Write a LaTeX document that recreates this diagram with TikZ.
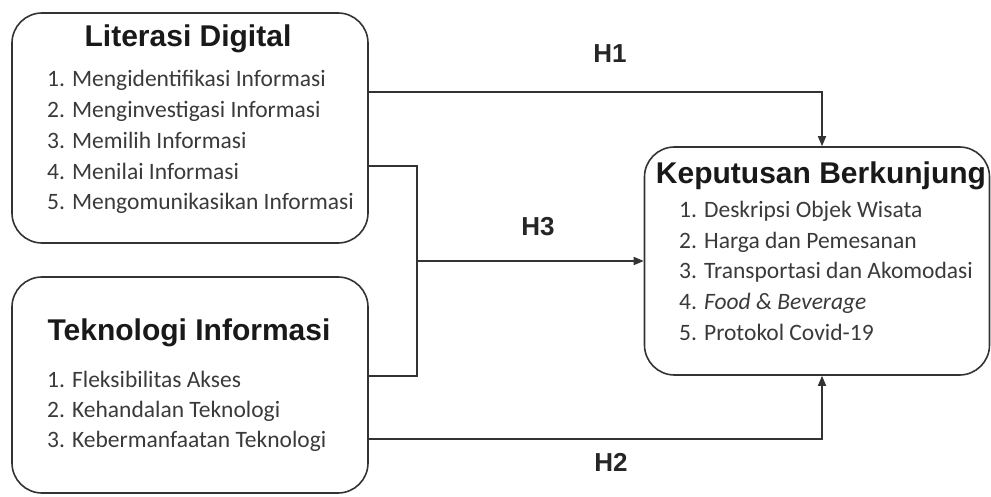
\documentclass[tikz,border=0pt]{standalone}
\usepackage{fontspec}
\setmainfont{Liberation Sans}
\newfontfamily\itemfont{Carlito}
\usepackage{tikz}
\usetikzlibrary{positioning, arrows.meta}

\definecolor{linegray}{HTML}{333333}
\definecolor{textgray}{HTML}{3A3A3A}

\begin{document}
\begin{tikzpicture}[x=1pt,y=-1pt,
    box/.style={draw=linegray, line width=1.6pt, rounded corners=30pt, rectangle, inner sep=0pt},
    title/.style={font=\fontsize{30}{34}\selectfont\bfseries, text=black!90, inner sep=0pt, anchor=base},
    item/.style={font=\itemfont\fontsize{23.5}{28}\selectfont, text=textgray, inner sep=0pt, anchor=base west},
    hyp/.style={font=\fontsize{26}{30}\selectfont\bfseries, text=black!85, inner sep=0pt},
    conn/.style={draw=linegray, line width=1.6pt},
    arr/.style={-{Triangle[length=10pt,width=8pt]}}]
  \useasboundingbox (0,0) rectangle (991,497);

  % boxes
  \node[box, minimum width=356pt, minimum height=230pt] (ld) at (190,128) {};
  \node[box, minimum width=356pt, minimum height=216pt] (ti) at (190,385) {};
  \node[box, minimum width=345pt, minimum height=228pt] (kb) at (817,261) {};

  % literasi digital
  \node[title] (ldtitle) at (188,47) {Literasi Digital};
  \node[item] (ld1) at (47,87) {1. Mengidentifikasi Informasi};
    \node[item] (ld2) [below=30.7pt of ld1.base west, anchor=base west] {2. Menginvestigasi Informasi};
    \node[item] (ld3) [below=30.7pt of ld2.base west, anchor=base west] {3. Memilih Informasi};
    \node[item] (ld4) [below=30.7pt of ld3.base west, anchor=base west] {4. Menilai Informasi};
    \node[item] (ld5) [below=30.7pt of ld4.base west, anchor=base west] {5. Mengomunikasikan Informasi};

  % teknologi informasi
  \node[title] (tititle) at (189,340) {Teknologi Informasi};
  \node[item] (ti1) at (47,387) {1. Fleksibilitas Akses};
    \node[item] (ti2) [below=30pt of ti1.base west, anchor=base west] {2. Kehandalan Teknologi};
    \node[item] (ti3) [below=30pt of ti2.base west, anchor=base west] {3. Kebermanfaatan Teknologi};

  % keputusan berkunjung
  \node[title] (kbtitle) at (821,184) {Keputusan Berkunjung};
  \node[item] (kb1) at (679,218) {1. Deskripsi Objek Wisata};
    \node[item] (kb2) [below=30.5pt of kb1.base west, anchor=base west] {2. Harga dan Pemesanan};
    \node[item] (kb3) [below=30.5pt of kb2.base west, anchor=base west] {3. Transportasi dan Akomodasi};
    \node[item] (kb4) [below=30.5pt of kb3.base west, anchor=base west] {4. \textit{Food \& Beverage}};
    \node[item] (kb5) [below=30.5pt of kb4.base west, anchor=base west] {5. Protokol Covid-19};

  % hypotheses
  \coordinate (junc) at (417,261);
  \draw[conn, arr] ([yshift=36pt]ld.east) -| ([xshift=5pt]kb.north);
  \draw[conn] ([yshift=-38pt]ld.east) -| (junc) |- ([yshift=9pt]ti.east);
  \draw[conn, arr] (junc) -- (kb.west);
  \draw[conn, arr] ([yshift=-54pt]ti.east) -| ([xshift=5pt]kb.south);

  \node[hyp] (h1) at (610,54) {H1};
  \node[hyp] (h3) at (538,227) {H3};
  \node[hyp] (h2) at (611,462) {H2};
\end{tikzpicture}
\end{document}
